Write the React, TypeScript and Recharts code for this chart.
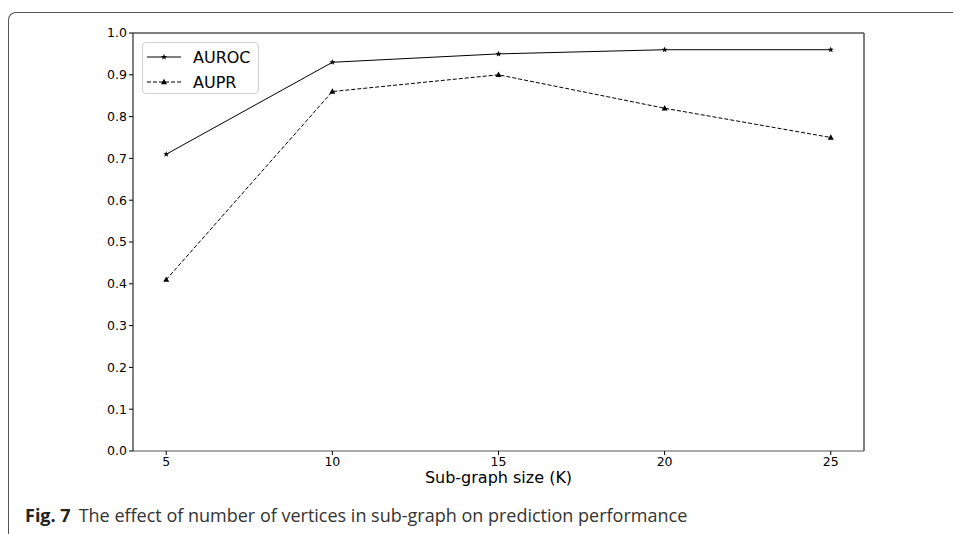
import { LineChart, Line, XAxis, YAxis, Legend, ReferenceLine } from 'recharts';

// sub-graph size K
const sizes = [5, 10, 15, 20, 25];
const auroc = [0.71, 0.93, 0.95, 0.96, 0.96];
const aupr = [0.41, 0.86, 0.9, 0.82, 0.75];
const yTicks = [0, 0.1, 0.2, 0.3, 0.4, 0.5, 0.6, 0.7, 0.8, 0.9, 1.0];

const data = sizes.map((k, i) => ({ k, auroc: auroc[i], aupr: aupr[i] }));

const tickFont = { fontFamily: 'DejaVu Sans', fontSize: 12.5, fill: '#000' };

// small star marker
function Star(props: any) {
  const { cx, cy } = props;
  if (cx == null || cy == null) return null;
  const pts: string[] = [];
  for (let i = 0; i < 10; i++) {
    const r = i % 2 === 0 ? 3.2 : 1.3;
    const a = (Math.PI / 5) * i - Math.PI / 2;
    pts.push(`${cx + r * Math.cos(a)},${cy + r * Math.sin(a)}`);
  }
  return <polygon points={pts.join(' ')} fill="#000" />;
}

// small triangle marker
function Tri(props: any) {
  const { cx, cy } = props;
  if (cx == null || cy == null) return null;
  return <polygon points={`${cx},${cy - 3.2} ${cx + 3},${cy + 2.2} ${cx - 3},${cy + 2.2}`} fill="#000" />;
}

function LegendBox() {
  const rows = [
    { name: 'AUROC', dash: undefined, Marker: Star },
    { name: 'AUPR', dash: '4 2', Marker: Tri },
  ];
  return (
    <div
      style={{
        width: 117,
        height: 52,
        border: '1px solid #d0d0d0',
        borderRadius: 4,
        background: '#fff',
        boxSizing: 'border-box',
      }}
    >
      {rows.map((r, i) => (
        <div key={r.name} style={{ position: 'absolute', left: 5, top: 5 + i * 25, height: 20, display: 'flex', alignItems: 'center' }}>
          <svg width={34} height={20}>
            <line x1={0} y1={10} x2={34} y2={10} stroke="#000" strokeWidth={1} strokeDasharray={r.dash} />
            <r.Marker cx={17} cy={10} />
          </svg>
          <span style={{ marginLeft: 12, fontFamily: 'DejaVu Sans', fontSize: 16, color: '#000' }}>{r.name}</span>
        </div>
      ))}
    </div>
  );
}

export default function App() {
  return (
    <div style={{ position: 'fixed', left: 0, top: 0, width: 953, height: 534, background: '#fff', overflow: 'hidden' }}>
      {/* figure frame */}
      <div
        style={{
          position: 'absolute',
          left: 8,
          top: 12,
          width: 960,
          height: 540,
          borderLeft: '1.5px solid #555',
          borderTop: '1.5px solid #555',
          borderTopLeftRadius: 8,
        }}
      />
      <div style={{ position: 'absolute', left: 0, top: 0 }}>
        <LineChart width={953} height={534} data={data} margin={{ top: 33, right: 89, left: 0, bottom: 0 }}>
          <XAxis
            dataKey="k"
            type="number"
            domain={[4, 26]}
            ticks={sizes}
            height={83}
            stroke="#555"
            tickSize={4}
            tick={tickFont}
            tickLine={{ stroke: '#000' }}
            label={{ value: 'Sub-graph size (K)', position: 'insideTop', offset: 21, style: { fontFamily: 'DejaVu Sans', fontSize: 16, fill: '#000' } }}
          />
          <YAxis
            type="number"
            domain={[0, 1]}
            ticks={yTicks}
            width={133}
            stroke="#000"
            tickSize={4}
            tick={tickFont}
            tickFormatter={(v: number) => v.toFixed(1)}
          />
          <ReferenceLine y={1} stroke="#000" strokeWidth={1} />
          <ReferenceLine x={26} stroke="#555" strokeWidth={1.5} />
          <Legend
            layout="horizontal"
            verticalAlign="middle"
            align="center"
            content={() => <LegendBox />}
            wrapperStyle={{ position: 'absolute', left: 142, top: 42, width: 117, height: 52 }}
          />
          <Line
            type="linear"
            dataKey="auroc"
            name="AUROC"
            stroke="#000"
            strokeWidth={1}
            dot={<Star />}
            activeDot={false}
            isAnimationActive={false}
          />
          <Line
            type="linear"
            dataKey="aupr"
            name="AUPR"
            stroke="#000"
            strokeWidth={1}
            strokeDasharray="4 2"
            dot={<Tri />}
            activeDot={false}
            isAnimationActive={false}
          />
        </LineChart>
      </div>
      {/* caption */}
      <div
        style={{
          position: 'absolute',
          left: 25,
          top: 503,
          fontFamily: 'Open Sans',
          fontSize: 18,
          color: '#333',
          whiteSpace: 'nowrap',
        }}
      >
        <b style={{ color: '#222' }}>Fig. 7</b>
        <span style={{ marginLeft: 8 }}>The effect of number of vertices in sub-graph on prediction performance</span>
      </div>
    </div>
  );
}
